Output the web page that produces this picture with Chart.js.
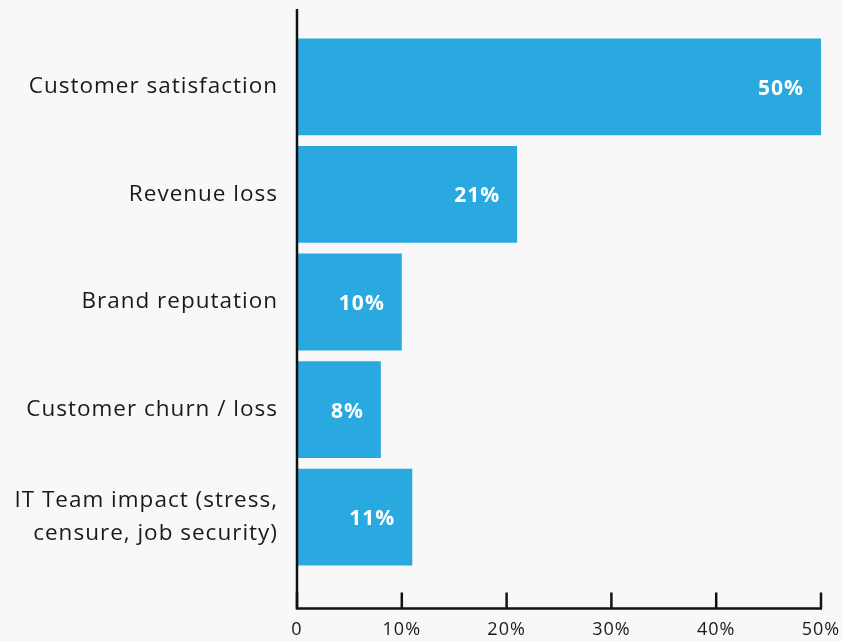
<!DOCTYPE html>
<html>
<head>
<meta charset="utf-8">
<script src="https://cdn.jsdelivr.net/npm/chart.js@4.4.1/dist/chart.umd.min.js"></script>
<style>
  html, body { margin:0; padding:0; background:#f8f8f8; }
  #wrap { width:843px; height:641px; position:relative; }
</style>
</head>
<body>
<div id="wrap"><canvas id="chart"></canvas></div>
<script>
const categories = [
  "Customer satisfaction",
  "Revenue loss",
  "Brand reputation",
  "Customer churn / loss",
  ["IT Team impact (stress,", "censure, job security)"]
];
const values = [50, 21, 10, 8, 11];
const xTicks = [0, 10, 20, 30, 40, 50];

const FONT = "'Open Sans', sans-serif";
const BAR = "#2aa9e1";

// a little letter spacing to get closer to the original wide font
const spacing = {
  id: "spacing",
  beforeDraw(chart){ chart.ctx.letterSpacing = "1px"; }
};

// axes are drawn by hand: longer than the category band, ticks pointing up
const axisLines = {
  id: "axisLines",
  afterDraw(chart){
    const { ctx, scales:{ x } } = chart;
    const x0 = x.getPixelForValue(0);
    const yAxis = 608.5;
    ctx.save();
    ctx.strokeStyle = "#111";
    ctx.lineWidth = 2.5;
    ctx.beginPath();
    ctx.moveTo(x0, 9); ctx.lineTo(x0, yAxis);
    ctx.lineTo(x.getPixelForValue(50) + 1, yAxis);
    ctx.stroke();
    for (const t of xTicks){
      const px = x.getPixelForValue(t);
      ctx.beginPath(); ctx.moveTo(px, yAxis); ctx.lineTo(px, yAxis - 16); ctx.stroke();
    }
    ctx.restore();
  }
};

const barLabels = {
  id: "barLabels",
  afterDatasetsDraw(chart){
    const { ctx } = chart;
    const meta = chart.getDatasetMeta(0);
    ctx.save();
    ctx.fillStyle = "#fff";
    ctx.font = "bold 21px " + FONT;
    ctx.textAlign = "right";
    ctx.textBaseline = "middle";
    meta.data.forEach((bar, i) => {
      ctx.fillText(values[i] + "%", bar.x - 17, bar.y + 2);
    });
    ctx.restore();
  }
};

new Chart(document.getElementById("chart"), {
  type: "bar",
  data: {
    labels: categories,
    datasets: [{ data: values, backgroundColor: BAR, barPercentage: 0.9, categoryPercentage: 1 }]
  },
  options: {
    indexAxis: "y",
    responsive: true,
    maintainAspectRatio: false,
    animation: false,
    layout: { padding: { top: 33, bottom: 0, left: 0, right: 22 } },
    plugins: { legend: { display:false }, tooltip: { enabled:false } },
    scales: {
      x: {
        min: 0, max: 50,
        afterBuildTicks: (s) => { s.ticks = xTicks.map(v => ({ value: v })); },
        afterFit: (s) => { s.height = 70; s.paddingLeft = 0; s.paddingRight = 0; },
        ticks: {
          callback: (v) => v === 0 ? "0" : v + "%",
          font: { family: FONT, size: 18 },
          color: "#1a1a1a",
          padding: 48,
          maxRotation: 0,
          autoSkip: false
        },
        grid: { display:false, drawTicks:false },
        border: { display:false }
      },
      y: {
        afterFit: (s) => { s.width = 297; s.paddingTop = 0; s.paddingBottom = 0; },
        ticks: {
          font: { family: FONT, size: 22.5, lineHeight: 1.47 },
          color: "#1a1a1a",
          padding: 19
        },
        grid: { display:false, drawTicks:false },
        border: { display:false }
      }
    }
  },
  plugins: [spacing, axisLines, barLabels]
});
</script>
</body>
</html>
